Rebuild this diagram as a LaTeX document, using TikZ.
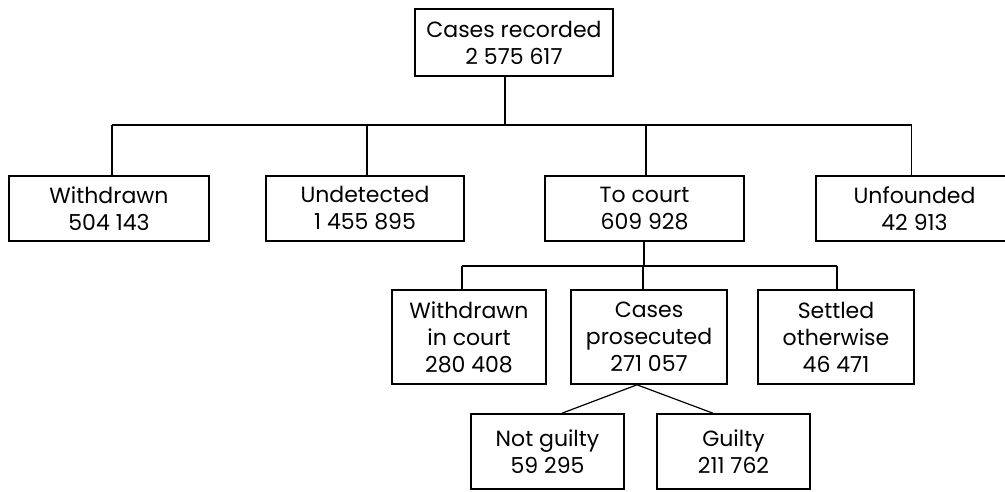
\documentclass[tikz,border=0pt]{standalone}
\usepackage{fontspec}
\setmainfont{Poppins}
\begin{document}
\begin{tikzpicture}[x=1pt,y=-1pt,
  box/.style={draw=black,line width=1.6pt,fill=white,inner sep=0pt,align=center,
    font=\fontsize{22}{27}\selectfont},
  wire/.style={draw=black,line width=1.6pt},
  thinwire/.style={draw=black,line width=1.2pt}]
\useasboundingbox[fill=white] (0,0) rectangle (1005,491);
% nodes
\node[box,minimum width=198pt,minimum height=67pt] (top) at (514,42.5) {Cases recorded\\2 575 617};
\node[box,minimum width=200pt,minimum height=65pt] (wd) at (109,208.5) {Withdrawn\\504 143};
\node[box,minimum width=198pt,minimum height=65pt] (ud) at (365,208.5) {Undetected\\1 455 895};
\node[box,minimum width=199pt,minimum height=65pt] (tc) at (644.5,208.5) {To court\\609 928};
\node[box,minimum width=197pt,minimum height=65pt] (uf) at (914.5,208.5) {Unfounded\\42 913};
\node[box,minimum width=154pt,minimum height=94pt] (wc) at (469,337) {Withdrawn\\in court\\280 408};
\node[box,minimum width=156pt,minimum height=94pt] (cp) at (649,337) {Cases\\prosecuted\\271 057};
\node[box,minimum width=156pt,minimum height=94pt] (so) at (836,337) {Settled\\otherwise\\46 471};
\node[box,minimum width=153pt,minimum height=75pt] (ng) at (547.5,451.5) {Not guilty\\59 295};
\node[box,minimum width=153pt,minimum height=75pt] (gu) at (733.5,451.5) {Guilty\\211 762};
% junction coordinates
\coordinate (busA) at (505,125);
\coordinate (busB) at (644,266);
% first level
\draw[wire] ([xshift=-9pt]top.south) -- ([xshift=-9pt]top.south |- busA);
\draw[wire] ([xshift=3pt]wd.north |- busA) -- ([xshift=-3pt]uf.north |- busA);
\draw[wire] ([xshift=3pt]wd.north) -- ([xshift=3pt]wd.north |- busA);
\draw[wire] ([xshift=2pt]ud.north) -- ([xshift=2pt]ud.north |- busA);
\draw[wire] ([xshift=1.5pt]tc.north) -- ([xshift=1.5pt]tc.north |- busA);
\draw[wire] ([xshift=-3pt]uf.north) -- ([xshift=-3pt]uf.north |- busA);
% second level
\draw[wire] ([xshift=-0.5pt]tc.south) -- ([xshift=-0.5pt]tc.south |- busB);
\draw[wire] ([xshift=-7pt]wc.north |- busB) -- ([xshift=1pt]so.north |- busB);
\draw[wire] ([xshift=-7pt]wc.north) -- ([xshift=-7pt]wc.north |- busB);
\draw[wire] ([xshift=-6pt]cp.north) -- ([xshift=-6pt]cp.north |- busB);
\draw[wire] ([xshift=1pt]so.north) -- ([xshift=1pt]so.north |- busB);
% third level
\draw[thinwire] ([xshift=-12pt]cp.south) -- ([xshift=14.5pt]ng.north);
\draw[thinwire] ([xshift=-12pt]cp.south) -- ([xshift=-20.5pt]gu.north);
\end{tikzpicture}
\end{document}
